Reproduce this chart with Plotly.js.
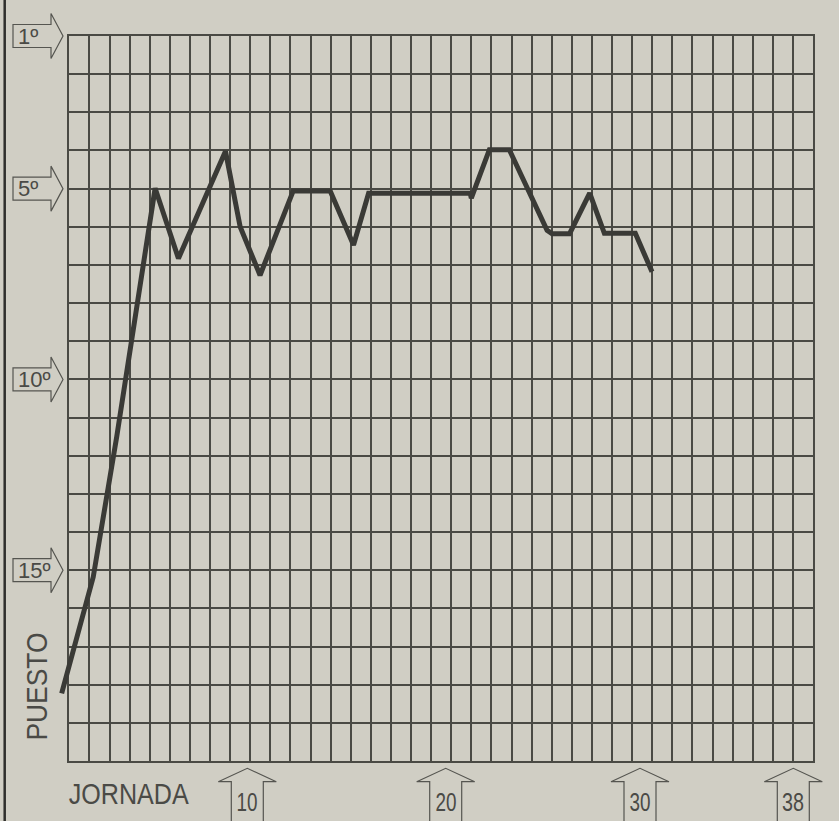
<!DOCTYPE html>
<html>
<head>
<meta charset="utf-8">
<script src="https://cdn.plot.ly/plotly-3.0.1.min.js"></script>
<style>html,body{margin:0;padding:0;background:#d0cec4;}#chart{width:839px;height:821px;}</style>
</head>
<body>
<div id="chart"></div>
<script>
// ---- data ----
const jornada = [0.62, 2.19, 3.36, 5.27, 6.43, 8.77, 9.5, 10.49, 12.14, 13.98, 15.14, 15.89, 20.95, 21.0, 21.9, 22.89, 24.77, 25.02, 25.89, 26.89, 27.62, 29.16, 29.99];
const puesto  = [18.23, 15.18, 11.5, 4.99, 6.83, 4.02, 6.0, 7.27, 5.06, 5.06, 6.48, 5.12, 5.12, 5.25, 3.98, 3.98, 6.09, 6.18, 6.18, 5.12, 6.17, 6.17, 7.18];
const puestoTicks = [1, 5, 10, 15];
const puestoLabels = ["1º", "5º", "10º", "15º"];
const jornadaTickLabels = ["10", "20", "30", "38"];
const jornadaArrowPx = [247.3, 445.7, 640, 793.3];

// ---- layout geometry ----
const W = 839, H = 821;
const ML = 55, MR = 26, MT = 36, MB = 60;
const PW = W - ML - MR, PH = H - MT - MB;
const gridLeftPx = 69.3;
const d0 = (gridLeftPx - ML) / PW;
const X_MIN = 1, X_MAX = 38, Y_MIN = 1, Y_MAX = 20;
const x2start = X_MIN - d0 / (1 - d0) * (X_MAX - X_MIN);
const PX = px => (px - ML) / PW;
const PY = py => (H - MB - py) / PH;
const posToPaper = p => 1 - (p - Y_MIN) / (Y_MAX - Y_MIN);

const lineCol = '#3a3a36';
const txtCol = '#4a4a46';
const sans = 'Liberation Sans, Arial, sans-serif';

const shapes = [];
const annotations = [];

// left page rule
shapes.push({type:'line', xref:'paper', yref:'paper', x0:PX(4.7), x1:PX(4.7), y0:PY(0), y1:PY(H), line:{color:'#2e2e2c', width:2.5}, layer:'above'});

// left arrows for puesto
puestoTicks.forEach((p, i) => {
  const yc = posToPaper(p);
  const hb = 11.5 / PH, hh = 22.5 / PH;
  const bx0 = PX(13), bx1 = PX(51), tip = PX(63);
  const path = `M ${bx0},${yc+hb} L ${bx1},${yc+hb} L ${bx1},${yc+hh} L ${tip},${yc} L ${bx1},${yc-hh} L ${bx1},${yc-hb} L ${bx0},${yc-hb} Z`;
  shapes.push({type:'path', xref:'paper', yref:'paper', path, line:{color:'#555550', width:1.2}, fillcolor:'rgba(0,0,0,0)'});
  annotations.push({xref:'paper', yref:'paper', x:PX(16), y:yc, xanchor:'left', yanchor:'middle', text:puestoLabels[i], showarrow:false, font:{family:sans, size:22, color:txtCol}});
});

// bottom arrows for jornada
jornadaTickLabels.forEach((t, i) => {
  const ax = jornadaArrowPx[i];
  const p = [[ax-16, 830], [ax-16, 781.7], [ax-29, 781.7], [ax, 768.3], [ax+29, 781.7], [ax+16, 781.7], [ax+16, 830]];
  const path = 'M ' + p.map(q => `${PX(q[0])},${PY(q[1])}`).join(' L ');
  shapes.push({type:'path', xref:'paper', yref:'paper', path, line:{color:'#555550', width:1.2}, fillcolor:'rgba(0,0,0,0)'});
  annotations.push({xref:'paper', yref:'paper', x:PX(ax), y:PY(802), xanchor:'center', yanchor:'middle', text:t, showarrow:false, font:{family:sans, size:25, color:txtCol}});
});

annotations.push({xref:'paper', yref:'paper', x:PX(36), y:PY(687), textangle:-90, xanchor:'center', yanchor:'middle', text:'PUESTO', showarrow:false, font:{family:sans, size:30, color:txtCol}});
annotations.push({xref:'paper', yref:'paper', x:PX(128.3), y:PY(793), xanchor:'center', yanchor:'middle', text:'JORNADA', showarrow:false, font:{family:sans, size:30, color:txtCol}});

const gridCol = '#4a4a44';
const gridTrace = {x:[], y:[], xaxis:'x', yaxis:'y', type:'scatter', mode:'lines', hoverinfo:'skip', showlegend:false};
const trace = {
  x: jornada, y: puesto, xaxis:'x2', yaxis:'y2', type:'scatter', mode:'lines',
  line:{color:lineCol, width:5}, hoverinfo:'skip', showlegend:false
};

const layout = {
  width: W, height: H,
  margin:{l:ML, r:MR, t:MT, b:MB},
  paper_bgcolor:'#d0cec4', plot_bgcolor:'rgba(0,0,0,0)',
  showlegend:false,
  xaxis:{domain:[d0, 1], range:[X_MIN, X_MAX], tick0:1, dtick:1, showgrid:true, gridcolor:gridCol, gridwidth:2, anchor:'y',
         showline:true, mirror:true, linecolor:gridCol, linewidth:2, zeroline:false, showticklabels:false, ticks:'', fixedrange:true},
  yaxis:{domain:[0, 1], anchor:'x', range:[Y_MAX, Y_MIN], tick0:1, dtick:1, showgrid:true, gridcolor:gridCol, gridwidth:2,
         showline:true, mirror:true, linecolor:gridCol, linewidth:2, zeroline:false, showticklabels:false, ticks:'', fixedrange:true},
  xaxis2:{domain:[0, 1], range:[x2start, X_MAX], anchor:'y2', visible:false, showgrid:false, zeroline:false, fixedrange:true},
  yaxis2:{domain:[0, 1], range:[Y_MAX, Y_MIN], anchor:'x2', visible:false, showgrid:false, zeroline:false, fixedrange:true},
  shapes, annotations
};

const squeeze = {'PUESTO':108, 'JORNADA':120, '10':21, '20':21, '30':21, '38':22};
Plotly.newPlot('chart', [gridTrace, trace], layout, {displayModeBar:false, staticPlot:true}).then(gd => {
  gd.querySelectorAll('.annotation-text').forEach(el => {
    const len = squeeze[el.textContent];
    if (len) { el.setAttribute('textLength', len); el.setAttribute('lengthAdjust', 'spacingAndGlyphs'); }
  });
  gd.querySelectorAll('.gridlayer path, path.xlines-above, path.ylines-above').forEach(el => {
    el.setAttribute('shape-rendering', 'crispEdges');
  });
});
</script>
</body>
</html>
